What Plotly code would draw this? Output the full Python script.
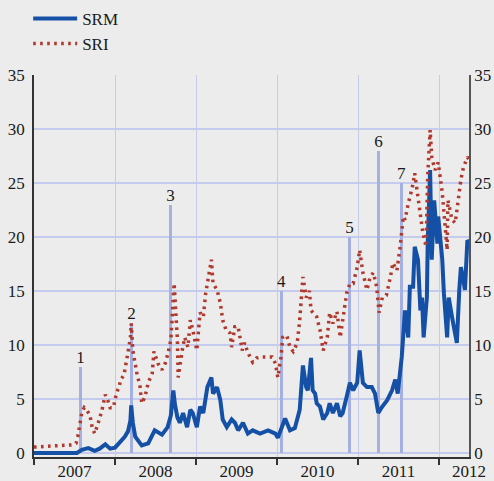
import plotly.graph_objects as go

# ---- data (decimal years) ----
srm_t = [2007.00, 2007.53, 2007.59, 2007.67, 2007.75, 2007.81, 2007.88, 2007.94, 2008.00, 2008.06,
         2008.12, 2008.16, 2008.19, 2008.20, 2008.22, 2008.25, 2008.33, 2008.41, 2008.49, 2008.58,
         2008.65, 2008.69, 2008.72, 2008.74, 2008.77, 2008.80, 2008.84, 2008.89, 2008.93, 2008.96,
         2009.01, 2009.05, 2009.09, 2009.14, 2009.19, 2009.21, 2009.26, 2009.30, 2009.33, 2009.38,
         2009.44, 2009.48, 2009.52, 2009.58, 2009.64, 2009.70, 2009.79, 2009.89, 2009.98, 2010.01,
         2010.06, 2010.10, 2010.16, 2010.22, 2010.28, 2010.32, 2010.36, 2010.38, 2010.42, 2010.44,
         2010.47, 2010.49, 2010.53, 2010.57, 2010.62, 2010.65, 2010.69, 2010.74, 2010.78, 2010.81,
         2010.86, 2010.90, 2010.94, 2010.99, 2011.02, 2011.06, 2011.11, 2011.17, 2011.21, 2011.25,
         2011.30, 2011.36, 2011.42, 2011.46, 2011.49, 2011.54, 2011.58, 2011.62, 2011.64, 2011.68,
         2011.70, 2011.74, 2011.77, 2011.79, 2011.81, 2011.85, 2011.86, 2011.89, 2011.91, 2011.94,
         2011.98, 2011.99, 2012.04, 2012.06, 2012.10, 2012.12, 2012.16, 2012.19, 2012.22, 2012.25,
         2012.27, 2012.30, 2012.32, 2012.35, 2012.37]
srm_v = [0.0, 0.0, 0.3, 0.45, 0.2, 0.4, 0.8, 0.4, 0.5, 1.0,
         1.5, 2.0, 3.0, 4.4, 2.8, 1.5, 0.7, 0.9, 2.1, 1.7,
         2.4, 3.5, 5.8, 4.5, 3.3, 2.8, 3.7, 2.4, 4.0, 3.7,
         2.4, 4.3, 3.7, 6.1, 7.0, 5.5, 6.1, 4.9, 3.1, 2.4,
         3.1, 2.8, 2.1, 2.8, 1.8, 2.1, 1.8, 2.1, 1.8, 1.4,
         2.4, 3.2, 2.1, 2.3, 4.0, 8.1, 6.1, 5.8, 8.8, 5.8,
         5.5, 4.6, 4.3, 3.1, 3.7, 4.6, 3.7, 4.6, 3.4, 3.7,
         5.2, 6.5, 5.8, 6.5, 9.5, 6.5, 6.1, 6.1, 5.5, 3.7,
         4.3, 4.9, 5.8, 6.8, 5.5, 8.9, 13.2, 10.7, 15.4, 15.4,
         19.1, 17.9, 13.2, 14.4, 10.7, 14.4, 19.4, 26.2, 17.9, 23.4,
         19.4, 21.9, 17.9, 14.8, 10.7, 14.4, 12.6, 11.1, 10.2, 15.1,
         17.2, 16.0, 15.1, 19.7, 19.5]

sri_t = [2007.00, 2007.14, 2007.26, 2007.38, 2007.47, 2007.52, 2007.54, 2007.57, 2007.59, 2007.62,
         2007.65, 2007.69, 2007.72, 2007.75, 2007.78, 2007.81, 2007.84, 2007.88, 2007.91, 2007.94,
         2007.98, 2008.00, 2008.02, 2008.05, 2008.07, 2008.11, 2008.14, 2008.16, 2008.19, 2008.20,
         2008.22, 2008.25, 2008.27, 2008.31, 2008.33, 2008.37, 2008.41, 2008.46, 2008.48, 2008.53,
         2008.58, 2008.62, 2008.65, 2008.69, 2008.73, 2008.77, 2008.78, 2008.83, 2008.86, 2008.90,
         2008.93, 2008.96, 2009.01, 2009.05, 2009.09, 2009.12, 2009.15, 2009.19, 2009.21, 2009.26,
         2009.30, 2009.33, 2009.37, 2009.42, 2009.44, 2009.48, 2009.52, 2009.57, 2009.60, 2009.64,
         2009.70, 2009.75, 2009.81, 2009.88, 2009.94, 2009.98, 2010.01, 2010.05, 2010.07, 2010.12,
         2010.16, 2010.20, 2010.25, 2010.28, 2010.32, 2010.36, 2010.40, 2010.42, 2010.44, 2010.49,
         2010.53, 2010.57, 2010.62, 2010.65, 2010.69, 2010.74, 2010.78, 2010.81, 2010.86, 2010.90,
         2010.94, 2010.99, 2011.02, 2011.06, 2011.11, 2011.15, 2011.19, 2011.23, 2011.26, 2011.30,
         2011.35, 2011.40, 2011.43, 2011.48, 2011.52, 2011.56, 2011.58, 2011.62, 2011.67, 2011.70,
         2011.73, 2011.77, 2011.80, 2011.84, 2011.86, 2011.89, 2011.91, 2011.95, 2011.99, 2012.04,
         2012.07, 2012.10, 2012.11, 2012.16, 2012.20, 2012.23, 2012.27, 2012.30, 2012.35, 2012.37]
sri_v = [0.55, 0.6, 0.7, 0.7, 0.75, 0.9, 1.5, 2.8, 3.7, 4.2,
         4.0, 3.5, 2.3, 1.8, 2.4, 3.2, 4.0, 5.4, 4.9, 4.2,
         4.2, 4.9, 5.6, 6.1, 6.8, 7.2, 8.3, 9.3, 10.7, 12.0,
         9.5, 8.0, 7.4, 6.1, 4.6, 5.2, 6.5, 7.4, 9.4, 8.3,
         7.7, 8.3, 9.1, 10.5, 15.7, 10.5, 7.0, 9.5, 10.7, 9.8,
         12.3, 11.4, 9.5, 13.0, 12.6, 14.8, 16.3, 17.9, 15.7, 15.1,
         13.9, 12.3, 11.4, 11.1, 9.8, 11.7, 11.7, 9.5, 10.2, 9.3,
         8.4, 8.8, 8.9, 8.9, 8.9, 8.3, 7.0, 8.9, 10.7, 10.9,
         9.8, 9.4, 10.2, 12.3, 16.3, 14.4, 15.0, 13.2, 13.0, 12.6,
         11.4, 9.5, 10.7, 13.0, 12.0, 13.1, 10.7, 12.3, 14.8, 15.7,
         15.7, 17.2, 18.8, 16.7, 15.1, 16.3, 16.7, 15.4, 13.0, 14.4,
         14.6, 16.3, 17.6, 16.9, 19.1, 21.9, 21.6, 23.1, 24.6, 25.9,
         24.1, 21.6, 20.4, 19.1, 25.6, 29.9, 27.4, 26.2, 26.9, 24.1,
         20.9, 18.8, 23.4, 21.6, 21.3, 23.1, 25.3, 26.4, 27.4, 27.2]

event_t = [2007.57, 2008.20, 2008.69, 2010.06, 2010.90, 2011.25, 2011.54]
event_h = [8.0, 12.0, 23.0, 15.0, 20.0, 28.0, 25.0]
event_lbl = ["1", "2", "3", "4", "5", "6", "7"]

year_bounds = [2007, 2008, 2009, 2010, 2011, 2012]
year_mid = [2007.5, 2008.5, 2009.5, 2010.5, 2011.5]
year_lbl = ["2007", "2008", "2009", "2010", "2011"]
y_ticks = [0, 5, 10, 15, 20, 25, 30, 35]

FONT = "Liberation Serif, Times New Roman, serif"
GRID = "#c4cbec"
BG = "#ececec"
TXT = "#1a1a1a"
XR = [2007.0, 2012.37]
YR = [-0.37, 35]

fig = go.Figure()
fig.add_trace(go.Bar(x=event_t, y=event_h, width=0.037, marker=dict(color="#a4b0e2", line_width=0),
                     text=event_lbl, textposition="outside", cliponaxis=False, constraintext="none",
                     textfont=dict(family=FONT, size=17, color=TXT),
                     showlegend=False, yaxis="y"))
fig.add_trace(go.Scatter(x=srm_t, y=srm_v, mode="lines", name="SRM",
                         line=dict(color="#1450a5", width=4), yaxis="y2"))
fig.add_trace(go.Scatter(x=sri_t, y=sri_v, mode="lines", name="SRI",
                         line=dict(color="#b0382c", width=3.5, dash="2.6px,4.4px"), yaxis="y2"))

fig.add_annotation(x=XR[1], y=0, xref="x", yref="paper", yanchor="top", yshift=-3, xshift=0,
                   text="2012", showarrow=False, font=dict(family=FONT, size=17, color=TXT))

fig.update_layout(
    width=494, height=481,
    margin=dict(l=34, r=25, t=75, b=24, autoexpand=False),
    paper_bgcolor=BG, plot_bgcolor=BG,
    font=dict(family=FONT, size=17, color=TXT),
    bargap=0,
    legend=dict(xref="container", yref="container", x=0.057, y=0.998, xanchor="left", yanchor="top",
                bgcolor="rgba(0,0,0,0)", font=dict(family=FONT, size=17, color=TXT),
                tracegroupgap=0, itemwidth=44),
    xaxis=dict(range=XR, tickmode="array", tickvals=year_mid, ticktext=year_lbl, ticks="",
               showgrid=False, zeroline=False, showline=True, linecolor="#333", linewidth=1.5,
               ticklabelstandoff=-2,
               minor=dict(tickmode="array", tickvals=year_bounds, ticks="outside", ticklen=6,
                          tickcolor="#333", tickwidth=1.5, showgrid=True, gridcolor=GRID, gridwidth=1),
               tickfont=dict(family=FONT, size=17, color=TXT)),
    yaxis=dict(range=YR, tickmode="array", tickvals=y_ticks, ticks="", showgrid=True,
               gridcolor=GRID, gridwidth=1.5, zeroline=False, showline=True, linecolor="#333",
               linewidth=1.5, ticklabelstandoff=4, tickfont=dict(family=FONT, size=17, color=TXT)),
    yaxis2=dict(range=YR, overlaying="y", side="right", tickmode="array", tickvals=y_ticks,
                ticks="", showgrid=False, zeroline=False, showline=True, linecolor="#555",
                linewidth=1.5, tickfont=dict(family=FONT, size=17, color=TXT)),
)

fig.write_html("out.html", config={"displayModeBar": False},
               post_script="document.body.style.margin='0';document.body.style.background='#ececec';")
